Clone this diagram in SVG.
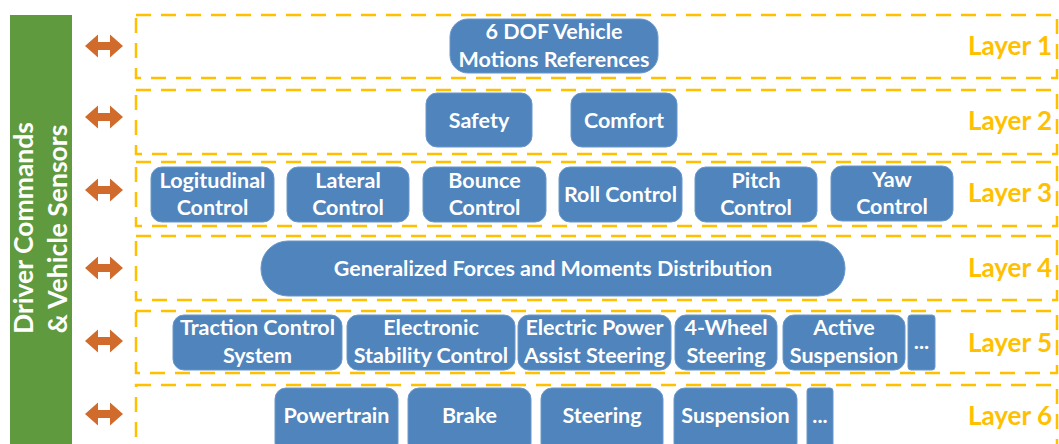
<svg xmlns="http://www.w3.org/2000/svg" width="1059" height="444" viewBox="0 0 1059 444">
<style>
.layer{fill:none;stroke:#FFC000;stroke-width:2.5;stroke-dasharray:15 10}
.lbl{font-family:Lato,"Open Sans",sans-serif;font-weight:bold;font-size:26px;fill:#FFC000;text-anchor:end}
.node rect{fill:#4F84BC;stroke:#6A98CB;stroke-width:1}
.node text{font-family:Lato,"Open Sans",sans-serif;font-weight:bold;font-size:21.5px;fill:#FFFFFF;text-anchor:middle}
.side{font-family:Lato,"Open Sans",sans-serif;font-weight:bold;font-size:26.5px;fill:#FFFFFF;text-anchor:middle}
.arr{fill:#D06B2B}
</style>
<defs>
<path id="dbl" d="M0,0 L13,-11.5 L13,-4 L25,-4 L25,-11.5 L38,0 L25,11.5 L25,4 L13,4 L13,11.5 Z"/>
</defs>
<rect width="1059" height="444" fill="#FFFFFF"/>
<g id="sidebar">
<rect x="10" y="15" width="62" height="440" fill="#609A3E"/>
<text class="side" transform="translate(33,228) rotate(-90)">Driver Commands</text>
<text class="side" transform="translate(67,229) rotate(-90)">&amp; Vehicle Sensors</text>
</g>
<g id="connectors">
<use href="#dbl" class="arr" x="85" y="46"/>
<use href="#dbl" class="arr" x="85" y="117"/>
<use href="#dbl" class="arr" x="85" y="190"/>
<use href="#dbl" class="arr" x="85" y="268"/>
<use href="#dbl" class="arr" x="85" y="341"/>
<use href="#dbl" class="arr" x="85" y="414"/>
</g>
<g id="layers">
<rect class="layer" x="136" y="15" width="921" height="63"/>
<rect class="layer" x="136" y="90" width="921" height="64"/>
<rect class="layer" x="136" y="162" width="921" height="64"/>
<rect class="layer" x="136" y="236" width="921" height="64"/>
<rect class="layer" x="136" y="311" width="921" height="62"/>
<rect class="layer" x="136" y="385" width="921" height="80"/>
<text class="lbl" x="1052" y="55">Layer 1</text>
<text class="lbl" x="1052" y="130">Layer 2</text>
<text class="lbl" x="1052" y="202">Layer 3</text>
<text class="lbl" x="1052" y="277">Layer 4</text>
<text class="lbl" x="1052" y="352">Layer 5</text>
<text class="lbl" x="1052" y="425">Layer 6</text>
</g>
<g id="n-6dof" class="node"><rect x="450" y="19" width="208" height="54" rx="18"/><text x="554" y="39">6 DOF Vehicle</text><text x="554" y="67">Motions References</text></g>
<g id="n-safety" class="node"><rect x="426" y="93" width="106" height="54" rx="11"/><text x="479" y="128">Safety</text></g>
<g id="n-comfort" class="node"><rect x="571" y="93" width="106" height="54" rx="11"/><text x="624" y="128">Comfort</text></g>
<g id="n-long" class="node"><rect x="151" y="167" width="123" height="55" rx="11"/><text x="212.5" y="188">Logitudinal</text><text x="212.5" y="215">Control</text></g>
<g id="n-lat" class="node"><rect x="287" y="167" width="122" height="55" rx="11"/><text x="348" y="188">Lateral</text><text x="348" y="215">Control</text></g>
<g id="n-bounce" class="node"><rect x="423" y="167" width="123" height="55" rx="11"/><text x="484.5" y="188">Bounce</text><text x="484.5" y="215">Control</text></g>
<g id="n-roll" class="node"><rect x="559" y="167" width="123" height="55" rx="11"/><text x="620.5" y="202">Roll Control</text></g>
<g id="n-pitch" class="node"><rect x="695" y="167" width="122" height="55" rx="11"/><text x="756" y="188">Pitch</text><text x="756" y="215">Control</text></g>
<g id="n-yaw" class="node"><rect x="831" y="166" width="122" height="55" rx="11"/><text x="892" y="187">Yaw</text><text x="892" y="214">Control</text></g>
<g id="n-gfm" class="node"><rect x="261" y="241" width="584" height="55" rx="27"/><text x="553" y="276">Generalized Forces and Moments Distribution</text></g>
<g id="n-tcs" class="node"><rect x="173" y="315" width="169" height="55" rx="11"/><text x="257.5" y="335">Traction Control</text><text x="257.5" y="363">System</text></g>
<g id="n-esc" class="node"><rect x="347" y="315" width="168" height="55" rx="11"/><text x="431" y="335">Electronic</text><text x="431" y="363">Stability Control</text></g>
<g id="n-epas" class="node"><rect x="518" y="315" width="153" height="55" rx="11"/><text x="594.5" y="335">Electric Power</text><text x="594.5" y="363">Assist Steering</text></g>
<g id="n-4ws" class="node"><rect x="675" y="315" width="102" height="55" rx="11"/><text x="726" y="335">4-Wheel</text><text x="726" y="363">Steering</text></g>
<g id="n-as" class="node"><rect x="783" y="315" width="122" height="55" rx="11"/><text x="844" y="335">Active</text><text x="844" y="363">Suspension</text></g>
<g id="n-more5" class="node"><rect x="908" y="315" width="27" height="55" rx="3"/><text x="921.5" y="349">...</text></g>
<g id="n-pt" class="node"><rect x="275" y="388" width="123" height="66" rx="11"/><text x="336.5" y="423">Powertrain</text></g>
<g id="n-brake" class="node"><rect x="408" y="388" width="123" height="66" rx="11"/><text x="469.5" y="423">Brake</text></g>
<g id="n-steer" class="node"><rect x="541" y="388" width="122" height="66" rx="11"/><text x="602" y="423">Steering</text></g>
<g id="n-susp" class="node"><rect x="674" y="388" width="123" height="66" rx="11"/><text x="735.5" y="423">Suspension</text></g>
<g id="n-more6" class="node"><rect x="807" y="388" width="26" height="66" rx="3"/><text x="820" y="423">...</text></g>
</svg>
